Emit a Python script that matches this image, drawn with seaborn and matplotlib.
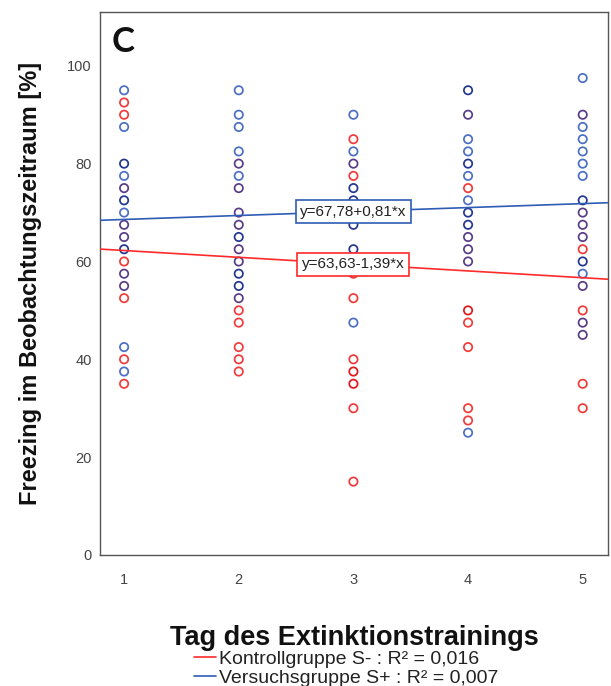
import numpy as np
import pandas as pd
import matplotlib
matplotlib.use("Agg")
import matplotlib.pyplot as plt
from matplotlib.lines import Line2D
import seaborn as sns

# Freezing-Werte [%] pro Tag
tage = [1, 2, 3, 4, 5]
kontroll = {
    1: [92.5, 90, 75, 67.5, 65, 60, 57.5, 55, 52.5, 40, 35],
    2: [80, 75, 70, 67.5, 62.5, 60, 52.5, 50, 47.5, 42.5, 40, 37.5],
    3: [85, 80, 77.5, 60, 57.5, 52.5, 40, 37.5, 37.5, 35, 35, 30, 15],
    4: [90, 75, 65, 62.5, 60, 50, 50, 47.5, 42.5, 30, 27.5],
    5: [90, 70, 67.5, 65, 62.5, 55, 50, 47.5, 45, 35, 30],
}
versuch = {
    1: [95, 87.5, 80, 80, 77.5, 75, 72.5, 72.5, 70, 67.5, 65, 62.5, 62.5, 57.5, 55, 42.5, 37.5],
    2: [95, 90, 87.5, 82.5, 80, 77.5, 75, 70, 67.5, 65, 65, 62.5, 60, 57.5, 57.5, 55, 55, 52.5],
    3: [90, 82.5, 80, 75, 75, 72.5, 72.5, 70, 67.5, 67.5, 62.5, 62.5, 60, 47.5],
    4: [95, 95, 90, 85, 82.5, 80, 80, 77.5, 72.5, 70, 70, 67.5, 67.5, 65, 62.5, 60, 25],
    5: [97.5, 90, 87.5, 85, 82.5, 80, 77.5, 72.5, 72.5, 70, 67.5, 65, 60, 60, 57.5, 55, 47.5, 45],
}

# Regressionsgeraden (aus der Abbildung)
gruppen = ["Kontrollgruppe S-", "Versuchsgruppe S+"]
intercepts = [63.63, 67.78]
slopes = [-1.39, 0.81]
r2_labels = ["0,016", "0,007"]
gleichungen = ["y=63,63-1,39*x", "y=67,78+0,81*x"]

rot, blau = "#f23a3a", "#4a6fc4"
linien_farben = ["#ff2a2a", "#2f5cb4"]
palette = {
    "rot": rot,
    "rot2": "#e01818",
    "blau": blau,
    "blau2": "#22378f",
    "beide": "#5a3c86",
}

rows = []
for t in tage:
    for v in kontroll[t]:
        rows.append((t, v, "k"))
    for v in versuch[t]:
        rows.append((t, v, "v"))
df = pd.DataFrame(rows, columns=["Tag", "Freezing", "Gruppe"])

# ueberlagerte Punkte zusammenfassen
agg = df.groupby(["Tag", "Freezing", "Gruppe"]).size().unstack(fill_value=0).reset_index()
for c in ["k", "v"]:
    if c not in agg:
        agg[c] = 0


def farbtyp(r):
    if r["k"] > 0 and r["v"] > 0:
        return "beide"
    if r["v"] > 1:
        return "blau2"
    if r["v"] == 1:
        return "blau"
    if r["k"] > 1:
        return "rot2"
    return "rot"


agg["typ"] = agg.apply(farbtyp, axis=1)

sns.set_style("white")
plt.rcParams["font.family"] = ["Liberation Sans", "DejaVu Sans"]

fig = plt.figure(figsize=(6.11, 6.86), dpi=100)
ax = fig.add_axes([0.1637, 0.191, 0.8313, 0.7915])

sns.scatterplot(data=agg, x="Tag", y="Freezing", hue="typ", palette=palette,
                s=36, marker="o", linewidth=1.25, legend=False, ax=ax, zorder=3)
pts = ax.collections[-1]
pts.set_edgecolors(pts.get_facecolors())
pts.set_facecolors("none")

xmin, xmax = 0.79, 5.22
xs = np.array([xmin, xmax])
for a, b, col, gl in zip(intercepts, slopes, linien_farben, gleichungen):
    sns.lineplot(x=xs, y=a + b * xs, color=col, linewidth=1.2, ax=ax, zorder=4)
    ax.text(3, a + b * 3, gl, ha="center", va="center", fontsize=11, color="#222",
            zorder=6, bbox=dict(boxstyle="square,pad=0.3", fc="white", ec=col, lw=1.2))

ax.set_xlim(xmin, xmax)
ax.set_ylim(0, 111)
ax.set_xticks(tage)
ax.set_yticks([0, 20, 40, 60, 80, 100])
ax.tick_params(axis="both", direction="out", length=5, width=1, color="#444",
               labelsize=10.5, labelcolor="#444", pad=1)
ax.tick_params(axis="x", pad=8)
for sp in ax.spines.values():
    sp.set_color("#555")
    sp.set_linewidth(1)

ax.set_xlabel("Tag des Extinktionstrainings", fontsize=19.5, fontweight="bold",
              labelpad=27, color="#111")
ax.set_ylabel("Freezing im Beobachtungszeitraum [%]", fontsize=17, fontweight="bold",
              labelpad=18, color="#111")

ax.text(0.022, 0.975, "C", transform=ax.transAxes, ha="left", va="top",
        fontsize=25, fontweight="bold", family=["Lato", "DejaVu Sans"], color="#111")

handles = [Line2D([0], [0], color=c, lw=1.2) for c in linien_farben]
labels = [f"{g} : R² = {r}" for g, r in zip(gruppen, r2_labels)]
fig.legend(handles, labels, loc="upper left", bbox_to_anchor=(0.302, 0.066),
           frameon=False, fontsize=14, handlelength=1.1, handletextpad=0.15,
           labelspacing=0.05, borderpad=0, labelcolor="#222")

fig.savefig("out.png", dpi=100)
